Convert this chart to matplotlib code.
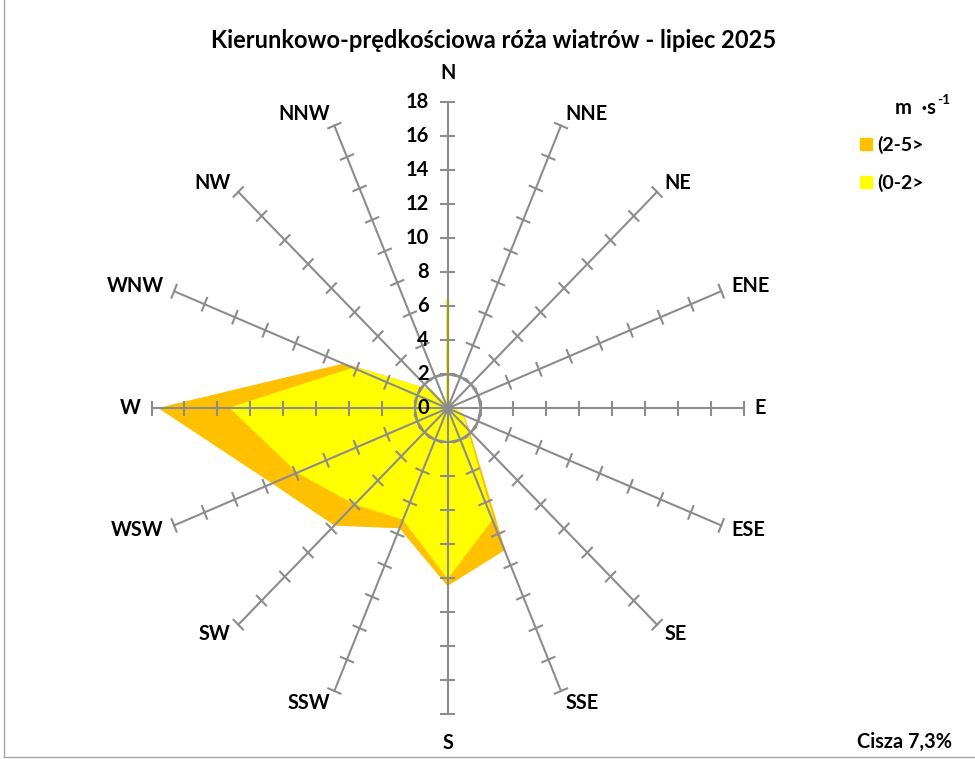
import numpy as np
import matplotlib.pyplot as plt
from matplotlib.patches import Rectangle

plt.rcParams['font.family'] = ['Lato', 'DejaVu Sans']

directions = ['N', 'NNE', 'NE', 'ENE', 'E', 'ESE', 'SE', 'SSE',
              'S', 'SSW', 'SW', 'WSW', 'W', 'WNW', 'NW', 'NNW']
# share of hours (%) per speed class
speed_0_2 = [6.4, 0, 0, 0, 0.3, 0.9, 1.5, 7.0, 9.9, 7.0, 7.9, 9.8, 13.1, 6.1, 1.4, 0]
speed_2_5 = [0, 0, 0, 0, 0, 0.1, 0.3, 2.0, 0.5, 0.6, 1.8, 1.7, 4.4, 0.7, 0.1, 0]
radial_ticks = [0, 2, 4, 6, 8, 10, 12, 14, 16, 18]
calm = 7.3
title = 'Kierunkowo-prędkościowa róża wiatrów - lipiec 2025'

orange = '#FFC000'
yellow = '#FFFF00'
grey = '#8C8C8C'

fig = plt.figure(figsize=(9.75, 7.59), dpi=100)
ax = fig.add_axes([0.1217, 0.0141, 0.6749, 0.8959])
ax.set_xlim(-20, 20)
ax.set_ylim(-20, 20)
ax.axis('off')

ang = np.arange(len(directions)) * 2 * np.pi / len(directions)
sx, sy = np.sin(ang), np.cos(ang)

# stacked series: outer = both classes, inner = (0-2>
inner = np.array(speed_0_2)
outer = inner + np.array(speed_2_5)
ax.fill(outer * sx, outer * sy, color=orange, lw=1, zorder=1)
ax.fill(inner * sx, inner * sy, color=yellow, lw=2.2, zorder=2)

rmax = radial_ticks[-1]
for i in range(len(directions)):
    ax.plot([0, rmax * sx[i]], [0, rmax * sy[i]], color=grey, lw=1.5, zorder=3)
    # cross ticks along each spoke
    for r in radial_ticks[1:]:
        px, py = r * sx[i], r * sy[i]
        h = 0.4
        ax.plot([px - h * sy[i], px + h * sy[i]], [py + h * sx[i], py - h * sx[i]],
                color=grey, lw=1.5, zorder=3)

# ring at r=2
ring = np.append(ang, ang[0])
ax.plot(2 * np.sin(ring), 2 * np.cos(ring), color=grey, lw=1.5, zorder=3)

for r in radial_ticks:
    ax.text(-1.15, r, str(r), ha='right', va='center', fontsize=14.5,
            fontweight='bold', zorder=4)

for i, d in enumerate(directions):
    s, c = sx[i], sy[i]
    if abs(s) < 0.1:
        ha = 'center'
        va = 'bottom' if c > 0 else 'top'
        off = (0, 19 if c > 0 else -19)
    else:
        ha = 'left' if s > 0 else 'right'
        va = 'center'
        off = (11 * s, 13 * c)
    ax.annotate(d, (rmax * s, rmax * c), xytext=off, textcoords='offset pixels',
                ha=ha, va=va, fontsize=14.3, fontweight='bold')

fig.text(0.506, 0.947, title, ha='center', va='center', fontsize=17, fontweight='bold')

# legend
fig.text(936 / 975, 1 - 108 / 759, 'm  ·s', ha='right', va='center', fontsize=14.5, fontweight='bold')
fig.text(937 / 975, 1 - 100 / 759, '-1', ha='left', va='center', fontsize=10, fontweight='bold')
fig.patches.append(Rectangle((860 / 975, 1 - 150 / 759), 11.5 / 975, 12 / 759,
                             transform=fig.transFigure, color=orange))
fig.patches.append(Rectangle((860 / 975, 1 - 188 / 759), 11.5 / 975, 12 / 759,
                             transform=fig.transFigure, color=yellow))
fig.text(877 / 975, 1 - 145 / 759, '(2-5>', ha='left', va='center', fontsize=14, fontweight='bold')
fig.text(877 / 975, 1 - 183 / 759, '(0-2>', ha='left', va='center', fontsize=14, fontweight='bold')

fig.text(952 / 975, 1 - 742 / 759, 'Cisza ' + str(calm).replace('.', ',') + '%',
         ha='right', va='center', fontsize=14.3, fontweight='bold')

# chart area frame (left and bottom edges visible)
fig.add_artist(plt.Line2D([4 / 975, 4 / 975], [2 / 759, 1], color='#A6A6A6', lw=1))
fig.add_artist(plt.Line2D([4 / 975, 1], [2 / 759, 2 / 759], color='#A6A6A6', lw=1))

fig.savefig('out.png', dpi=100)
